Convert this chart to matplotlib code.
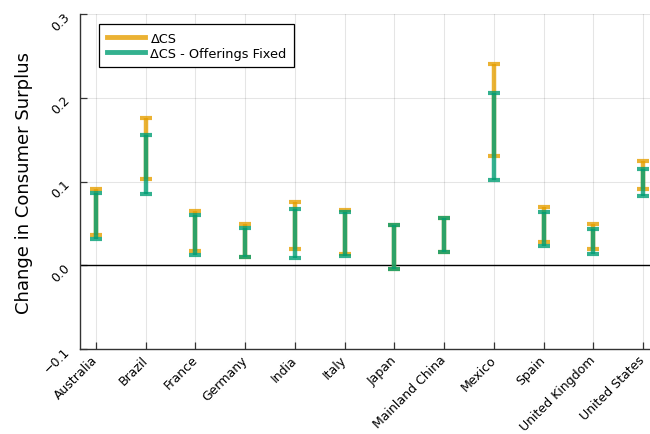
import matplotlib.pyplot as plt
import numpy as np
from matplotlib.lines import Line2D

countries = ["Australia", "Brazil", "France", "Germany", "India", "Italy", "Japan",
             "Mainland China", "Mexico", "Spain", "United Kingdom", "United States"]

# Delta CS interval (low, high)
cs_low = [0.036, 0.103, 0.017, 0.010, 0.019, 0.014, -0.004, 0.0155, 0.131, 0.028, 0.019, 0.091]
cs_high = [0.091, 0.1755, 0.065, 0.049, 0.076, 0.066, 0.048, 0.056, 0.240, 0.070, 0.049, 0.124]

# Delta CS with offerings fixed
fix_low = [0.031, 0.085, 0.012, 0.010, 0.009, 0.011, -0.004, 0.0155, 0.1015, 0.023, 0.014, 0.083]
fix_high = [0.086, 0.156, 0.060, 0.044, 0.067, 0.063, 0.048, 0.056, 0.206, 0.064, 0.043, 0.1155]

orange = "#E69F00"
green = "#009E73"

fig = plt.figure(figsize=(6.5, 4.35), dpi=100)
ax = fig.add_axes([0.123, 0.1954, 0.877, 0.7701])

x = np.arange(len(countries))


def draw_range(lo, hi, color):
    lo = np.array(lo)
    hi = np.array(hi)
    mid = (lo + hi) / 2
    err = (hi - lo) / 2
    ax.errorbar(x, mid, yerr=err, fmt="none", ecolor=color, alpha=0.8,
                elinewidth=3.2, capsize=4.5, capthick=3.0, zorder=3)


draw_range(cs_low, cs_high, orange)
draw_range(fix_low, fix_high, green)

ax.axhline(0, color="black", lw=1.0, zorder=2)

ax.set_xlim(-0.32, 11.14)
ax.set_ylim(-0.1, 0.3)
ax.set_yticks([-0.1, 0.0, 0.1, 0.2, 0.3])
ax.set_yticklabels(["\u22120.1", "0.0", "0.1", "0.2", "0.3"], rotation=45, fontsize=9,
                   ha="right", va="center", rotation_mode="anchor")
ax.set_xticks(x)
ax.set_xticklabels(countries, rotation=45, ha="right", va="center",
                   rotation_mode="anchor", fontsize=9)
ax.tick_params(direction="in", length=5, width=0.9, color="#333333")
ax.tick_params(axis="y", pad=9)
ax.tick_params(axis="x", pad=6)
ax.grid(True, color="black", alpha=0.1, lw=0.8)
ax.set_axisbelow(True)

for side in ["top", "right"]:
    ax.spines[side].set_visible(False)
for side in ["left", "bottom"]:
    ax.spines[side].set_color("#333333")
    ax.spines[side].set_linewidth(1.0)

ax.set_ylabel("Change in Consumer Surplus", fontsize=13, labelpad=6)

handles = [Line2D([0], [0], color=orange, alpha=0.8, lw=3.5),
           Line2D([0], [0], color=green, alpha=0.8, lw=3.5)]
leg = ax.legend(handles, ["\u0394CS", "\u0394CS - Offerings Fixed"], loc="upper left",
                bbox_to_anchor=(0.033, 0.97), borderaxespad=0, fontsize=9.3,
                fancybox=False, framealpha=1, edgecolor="black", handlelength=3.0,
                handletextpad=0.4, labelspacing=0.15, borderpad=0.6)
leg.get_frame().set_linewidth(0.9)

fig.savefig("out.png", dpi=100)
